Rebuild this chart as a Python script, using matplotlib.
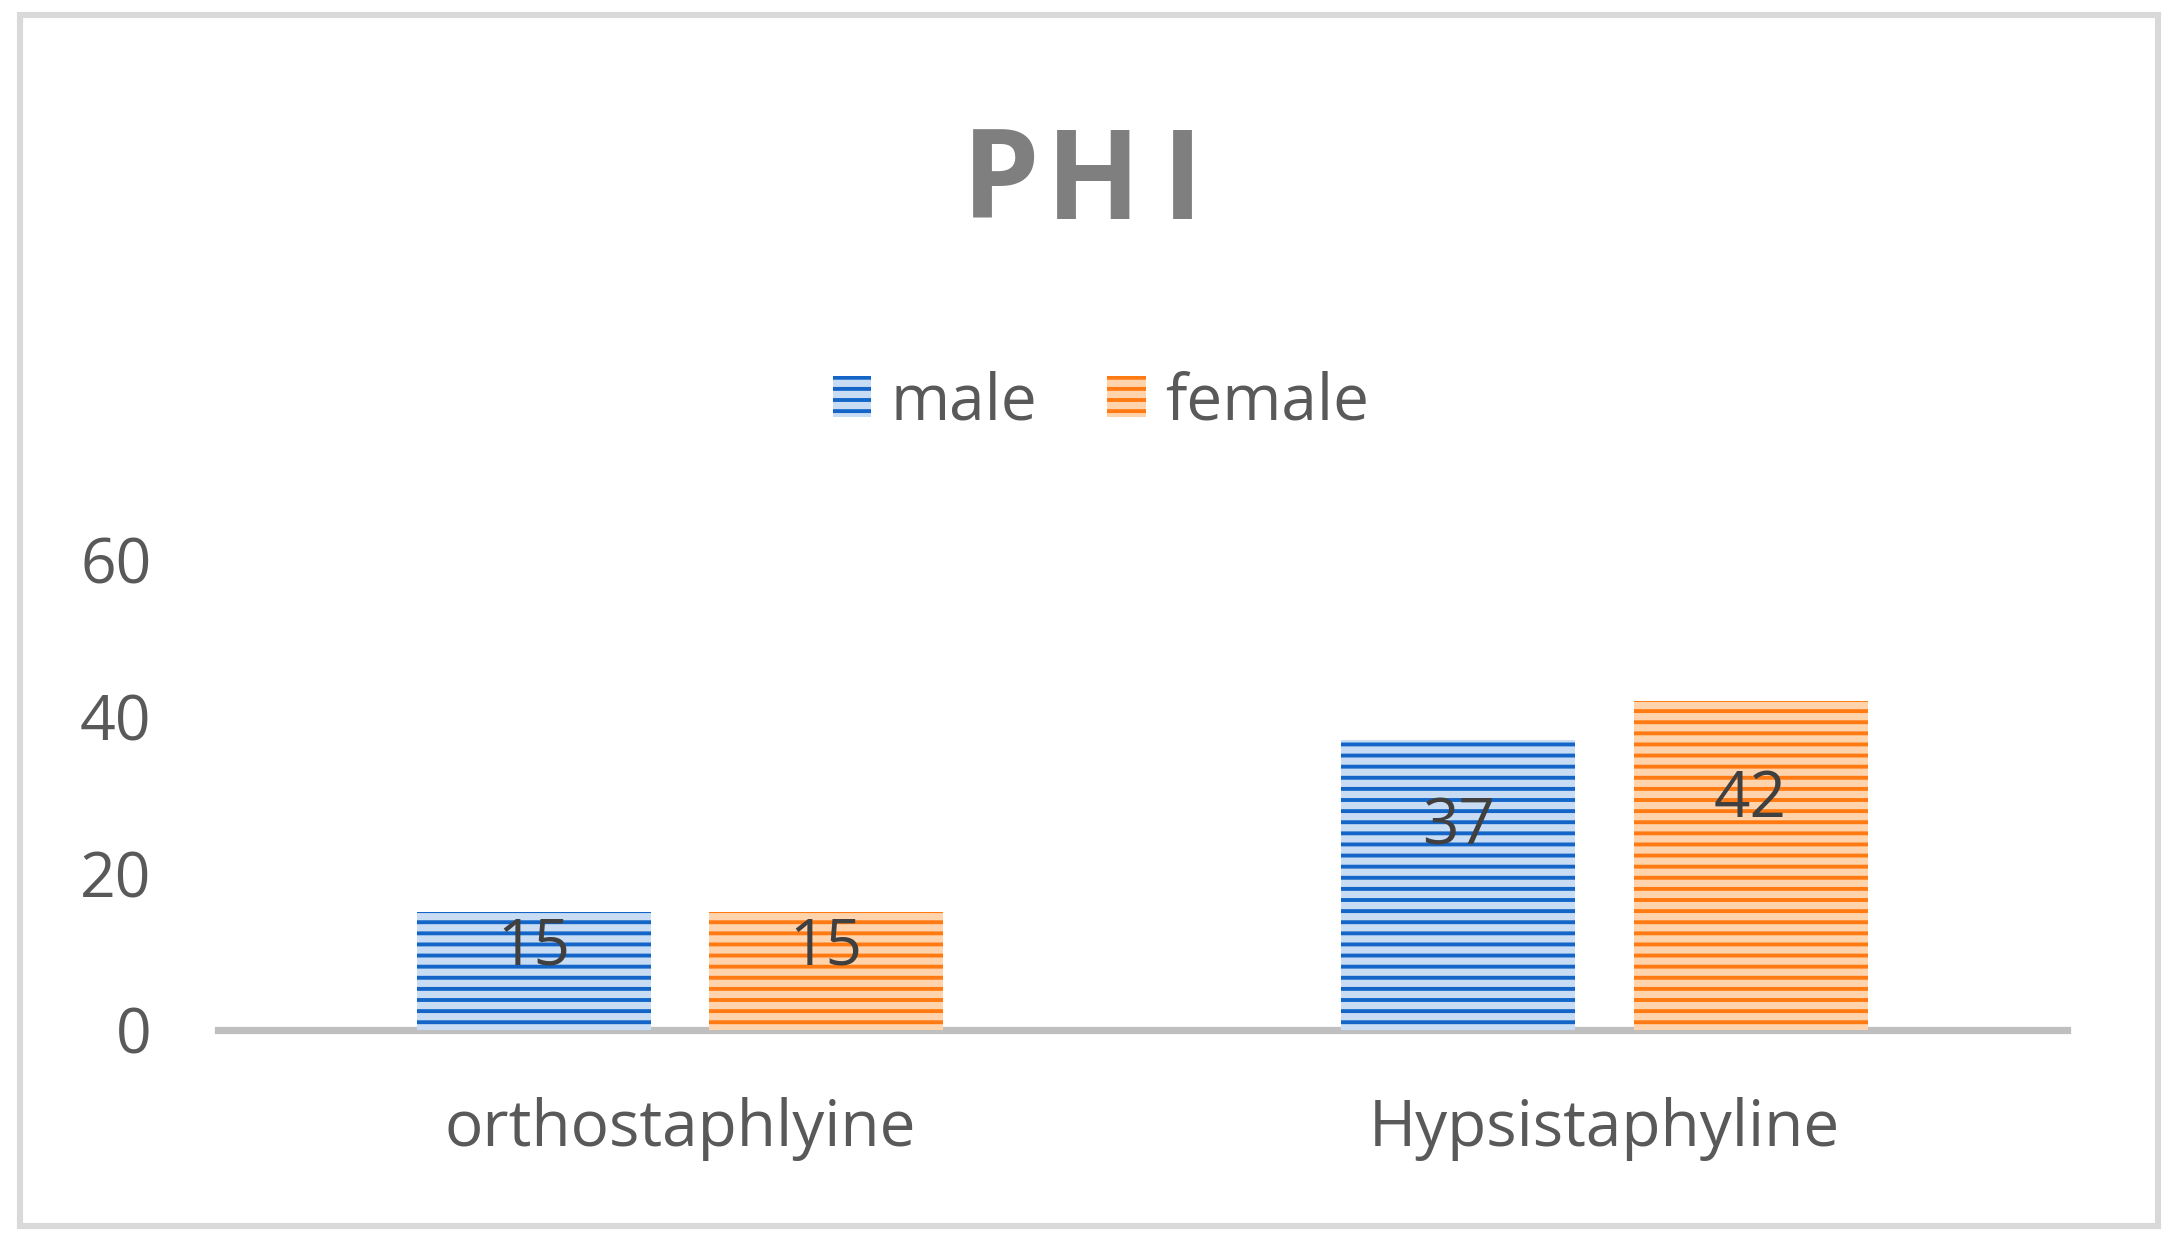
import matplotlib
matplotlib.use("Agg")
import matplotlib.pyplot as plt
import numpy as np
from matplotlib.patches import Rectangle

categories = ["orthostaphlyine", "Hypsistaphyline"]
series_names = ["male", "female"]
male_values = [15, 37]
female_values = [15, 42]
y_ticks = [0, 20, 40, 60]
title_letters = ["P", "H", "I"]

plt.rcParams['font.family'] = ['Open Sans', 'DejaVu Sans']
plt.rcParams['hatch.linewidth'] = 2.6

bar_colors = ['#1366c8', '#ff7a12']   # base colour of the stripes
stripe_colors = ['#c8dcf3', '#ffd3ab']  # light stripes
text_gray = '#595959'

fig = plt.figure(figsize=(10.9, 6.265), dpi=200)
ax = fig.add_axes([0.1, 0.178, 0.848, 0.375])

x = np.arange(len(categories))
width = 0.253
offset = width / 2 + 0.0316

for i, vals in enumerate([male_values, female_values]):
    b = ax.bar(x + (i * 2 - 1) * offset, vals, width,
               color=bar_colors[i], edgecolor=stripe_colors[i],
               linewidth=0, hatch='---', label=series_names[i], zorder=2)
    # labels sit in the upper part of each bar
    for rect, v in zip(b, vals):
        ax.text(rect.get_x() + rect.get_width() / 2, v * 0.7, str(v),
                ha='center', va='center', fontsize=23, color='#404040', zorder=3)

ax.set_xlim(-0.5, 1.5)
ax.set_ylim(0, 60)
ax.set_yticks(y_ticks)
ax.set_xticks(x)
ax.set_xticklabels(categories)
ax.tick_params(axis='y', length=0, pad=24, labelsize=22.5, labelcolor=text_gray)
ax.tick_params(axis='x', length=0, pad=24, labelsize=23, labelcolor=text_gray)

for s in ['top', 'right', 'left']:
    ax.spines[s].set_visible(False)
ax.spines['bottom'].set_color('#bfbfbf')
ax.spines['bottom'].set_linewidth(2.6)
ax.spines['bottom'].set_zorder(1)

# title, spaced out letters
title_x = [0.4589, 0.5016, 0.5424]
for letter, tx in zip(title_letters, title_x):
    fig.text(tx, 0.851, letter, ha='center', va='center', fontsize=44.5,
             fontweight='bold', color='#7f7f7f')

leg = fig.legend(loc='center', bbox_to_anchor=(0.505, 0.679), ncol=2,
                 frameon=False, fontsize=23, handlelength=0.6, handleheight=0.6,
                 handletextpad=0.3, columnspacing=1.1, labelcolor=text_gray)

# light gray frame around the chart
fig.patches.append(Rectangle((0.0092, 0.0215), 0.9807, 0.9665, transform=fig.transFigure,
                             fill=False, edgecolor='#d9d9d9', linewidth=2.2))

fig.savefig("out.png", dpi=200, facecolor='white')
